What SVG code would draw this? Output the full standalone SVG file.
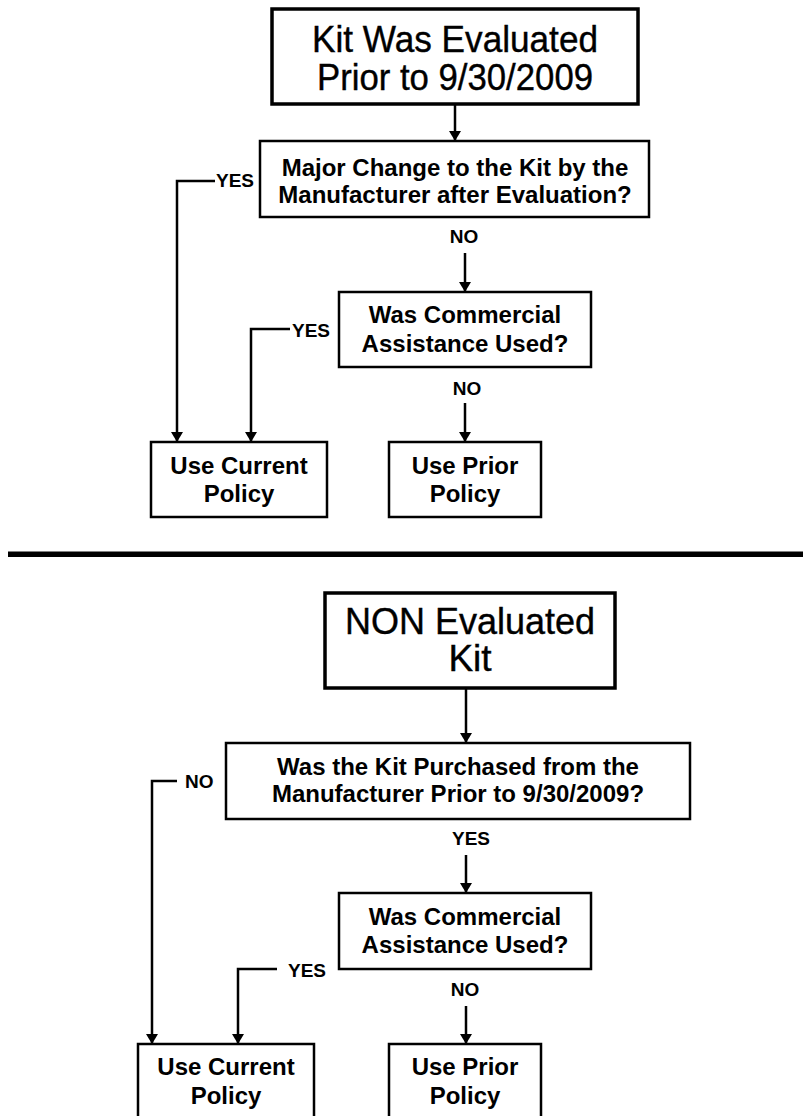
<svg xmlns="http://www.w3.org/2000/svg" width="803" height="1116" viewBox="0 0 803 1116">
<defs>
<marker id="ah" viewBox="0 0 10 12" refX="10" refY="6" markerWidth="10" markerHeight="12" markerUnits="userSpaceOnUse" orient="auto">
<path d="M0,0 L10,6 L0,12 Z" fill="#000"/>
</marker>
<style>
.box{fill:#fff;stroke:#000;stroke-width:2.5}
.big{fill:#fff;stroke:#000;stroke-width:3.5}
.t{font-family:"Liberation Sans",Arial,sans-serif;fill:#000;text-anchor:middle}
.tr{font-size:37px;font-weight:normal;stroke:#000;stroke-width:0.4}
.tb{font-size:24px;font-weight:bold}
.lb{font-family:"Liberation Sans",Arial,sans-serif;font-size:19px;font-weight:bold;fill:#000}
.c{fill:none;stroke:#000;stroke-width:2.5}
.ca{fill:none;stroke:#000;stroke-width:2.5;marker-end:url(#ah)}
</style>
</defs>
<rect width="803" height="1116" fill="#fff"/>

<g id="connectors">
<line class="ca" x1="455" y1="104" x2="455" y2="141"/>
<path class="ca" d="M215,181 H177 V442"/>
<line class="ca" x1="465" y1="253" x2="465" y2="292"/>
<path class="ca" d="M290,329 H251 V442"/>
<line class="ca" x1="465" y1="403" x2="465" y2="442"/>

<line class="ca" x1="466" y1="688" x2="466" y2="743"/>
<path class="ca" d="M177,781 H152 V1044"/>
<line class="ca" x1="466" y1="855" x2="466" y2="893"/>
<path class="ca" d="M277,969 H238 V1044"/>
<line class="ca" x1="466" y1="1006" x2="466" y2="1044"/>
</g>

<g id="separator">
<rect x="8" y="551.5" width="795" height="5.5" fill="#000"/>
</g>

<g id="n1">
<rect class="big" x="272" y="9" width="366" height="95"/>
<text class="t tr" x="455" y="52" textLength="286" lengthAdjust="spacingAndGlyphs">Kit Was Evaluated</text>
<text class="t tr" x="455" y="90" textLength="276" lengthAdjust="spacingAndGlyphs">Prior to 9/30/2009</text>
</g>
<g id="n2">
<rect class="box" x="260" y="141" width="389" height="76"/>
<text class="t tb" x="455" y="176">Major Change to the Kit by the</text>
<text class="t tb" x="455" y="203">Manufacturer after Evaluation?</text>
</g>
<g id="l1"><text class="lb" x="216" y="187">YES</text></g>
<g id="l2"><text class="lb" x="464" y="243" text-anchor="middle">NO</text></g>
<g id="n3">
<rect class="box" x="339" y="292" width="252" height="75"/>
<text class="t tb" x="465" y="323">Was Commercial</text>
<text class="t tb" x="465" y="352">Assistance Used?</text>
</g>
<g id="l3"><text class="lb" x="292" y="337">YES</text></g>
<g id="l4"><text class="lb" x="467" y="395" text-anchor="middle">NO</text></g>
<g id="n4">
<rect class="box" x="151" y="442" width="176" height="75"/>
<text class="t tb" x="239" y="474">Use Current</text>
<text class="t tb" x="239" y="502">Policy</text>
</g>
<g id="n5">
<rect class="box" x="389" y="442" width="152" height="75"/>
<text class="t tb" x="465" y="474">Use Prior</text>
<text class="t tb" x="465" y="502">Policy</text>
</g>

<g id="n6">
<rect class="big" x="325" y="593" width="290" height="95"/>
<text class="t tr" x="470" y="634" textLength="250" lengthAdjust="spacingAndGlyphs">NON Evaluated</text>
<text class="t tr" x="470" y="671">Kit</text>
</g>
<g id="n7">
<rect class="box" x="226" y="743" width="464" height="76"/>
<text class="t tb" x="458" y="775">Was the Kit Purchased from the</text>
<text class="t tb" x="458" y="802">Manufacturer Prior to 9/30/2009?</text>
</g>
<g id="l5"><text class="lb" x="185" y="788">NO</text></g>
<g id="l6"><text class="lb" x="471" y="845" text-anchor="middle">YES</text></g>
<g id="n8">
<rect class="box" x="339" y="893" width="252" height="76"/>
<text class="t tb" x="465" y="925">Was Commercial</text>
<text class="t tb" x="465" y="953">Assistance Used?</text>
</g>
<g id="l7"><text class="lb" x="288" y="977">YES</text></g>
<g id="l8"><text class="lb" x="465" y="996" text-anchor="middle">NO</text></g>
<g id="n9">
<rect class="box" x="138" y="1044" width="176" height="80"/>
<text class="t tb" x="226" y="1075">Use Current</text>
<text class="t tb" x="226" y="1104">Policy</text>
</g>
<g id="n10">
<rect class="box" x="389" y="1044" width="152" height="80"/>
<text class="t tb" x="465" y="1075">Use Prior</text>
<text class="t tb" x="465" y="1104">Policy</text>
</g>
</svg>
